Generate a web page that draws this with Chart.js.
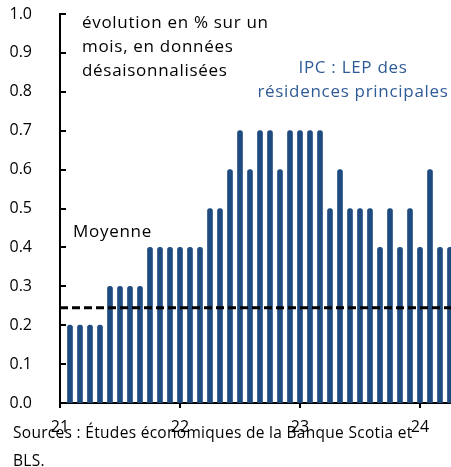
<!DOCTYPE html>
<html>
<head>
<meta charset="utf-8">
<script src="https://cdn.jsdelivr.net/npm/chart.js@4"></script>
<style>
  body { margin: 0; background: #fff; font-family: "Open Sans", sans-serif; }
  #wrap { position: relative; width: 451px; height: 467px; overflow: hidden; }
  .note { position: absolute; font-size: 17px; letter-spacing: 0.7px; line-height: 24px; color: #000; white-space: nowrap; }
  .blue { color: #2f5b96; text-align: center; }
  .src { position: absolute; left: 13px; top: 418px; font-size: 15.5px; letter-spacing: 0.3px; line-height: 28px; color: #000; width: 440px; white-space: nowrap; }
</style>
</head>
<body>
<div id="wrap">
  <canvas id="cpiChart" width="451" height="467"></canvas>
  <div class="note" style="left:82px; top:10px;">évolution en % sur un<br>mois, en données<br>désaisonnalisées</div>
  <div class="note blue" style="left:253px; top:55px; width:200px;">IPC : LEP des<br>résidences principales</div>
  <div class="note" style="left:73px; top:219px;">Moyenne</div>
  <div class="src">Sources : Études économiques de la Banque Scotia et<br>BLS.</div>
</div>
<script>
    // monthly % change, Jan 2021 .. Mar 2024
    const monthlyChange = [
        0.2, 0.2, 0.2, 0.2, 0.3, 0.3, 0.3, 0.3, 0.4, 0.4, 0.4, 0.4,
        0.4, 0.4, 0.5, 0.5, 0.6, 0.7, 0.6, 0.7, 0.7, 0.6, 0.7, 0.7,
        0.7, 0.7, 0.5, 0.6, 0.5, 0.5, 0.5, 0.4, 0.5, 0.4, 0.5, 0.4,
        0.6, 0.4, 0.4
    ];
    const average = 0.245;
    const yearLabels = ["21", "22", "23", "24"];
    const lastMonth = 39.1;

    // bars sit at the end of each month
    const barPoints = monthlyChange.map((v, i) => ({ x: i + 1, y: v }));

    // y ticks point into the plot, x ticks point down
    const axisTicks = {
        id: "axisTicks",
        afterDraw(chart) {
            const c = chart.ctx;
            const x = chart.scales.x;
            const y = chart.scales.y;
            c.save();
            c.strokeStyle = "#000";
            c.lineWidth = 2;
            y.ticks.forEach(t => {
                const py = Math.round(y.getPixelForValue(t.value));
                c.beginPath();
                c.moveTo(y.right - 1, py);
                c.lineTo(y.right + 6, py);
                c.stroke();
            });
            x.ticks.forEach(t => {
                const px = Math.round(x.getPixelForValue(t.value));
                c.beginPath();
                c.moveTo(px, x.top);
                c.lineTo(px, x.top + 5);
                c.stroke();
            });
            c.restore();
        }
    };

    const cpiChart = new Chart(document.getElementById("cpiChart"), {
        type: "bar",
        data: {
            datasets: [
                {
                    type: "line",
                    data: [{ x: 0, y: average }, { x: lastMonth, y: average }],
                    borderColor: "#000",
                    borderWidth: 3,
                    borderDash: [8, 4],
                    pointRadius: 0,
                    order: 0,
                },
                {
                    data: barPoints,
                    backgroundColor: "#204b80",
                    barThickness: 5,
                    borderRadius: { topLeft: 2.5, topRight: 2.5 },
                    borderSkipped: "bottom",
                    order: 1,
                },
            ],
        },
        options: {
            responsive: false,
            animation: false,
            layout: { autoPadding: false, padding: { top: 14, right: 0, left: 0, bottom: 0 } },
            plugins: {
                legend: { display: false },
                title: { display: false },
                tooltip: { enabled: false },
            },
            scales: {
                x: {
                    type: "linear",
                    offset: false,
                    min: 0,
                    max: lastMonth,
                    afterBuildTicks: s => {
                        s.ticks = yearLabels.map((l, i) => ({ value: i * 12 }));
                    },
                    afterFit: s => {
                        s.height = 64;
                        s.paddingLeft = 0;
                        s.paddingRight = 0;
                    },
                    ticks: {
                        color: "#000",
                        font: { family: "Open Sans", size: 16 },
                        padding: 7,
                        maxRotation: 0,
                        autoSkip: false,
                        callback: v => yearLabels[Math.round(v / 12)],
                    },
                    grid: { display: false },
                    border: { color: "#000", width: 2 },
                },
                y: {
                    min: 0,
                    max: 1,
                    afterFit: s => {
                        s.width = 60;
                        s.paddingTop = 0;
                        s.paddingBottom = 0;
                    },
                    ticks: {
                        stepSize: 0.1,
                        color: "#000",
                        font: { family: "Open Sans", size: 16 },
                        padding: 20,
                        callback: v => v.toFixed(1),
                    },
                    grid: { display: false },
                    border: { color: "#000", width: 2 },
                },
            },
        },
        plugins: [axisTicks],
    });
</script>
</body>
</html>
